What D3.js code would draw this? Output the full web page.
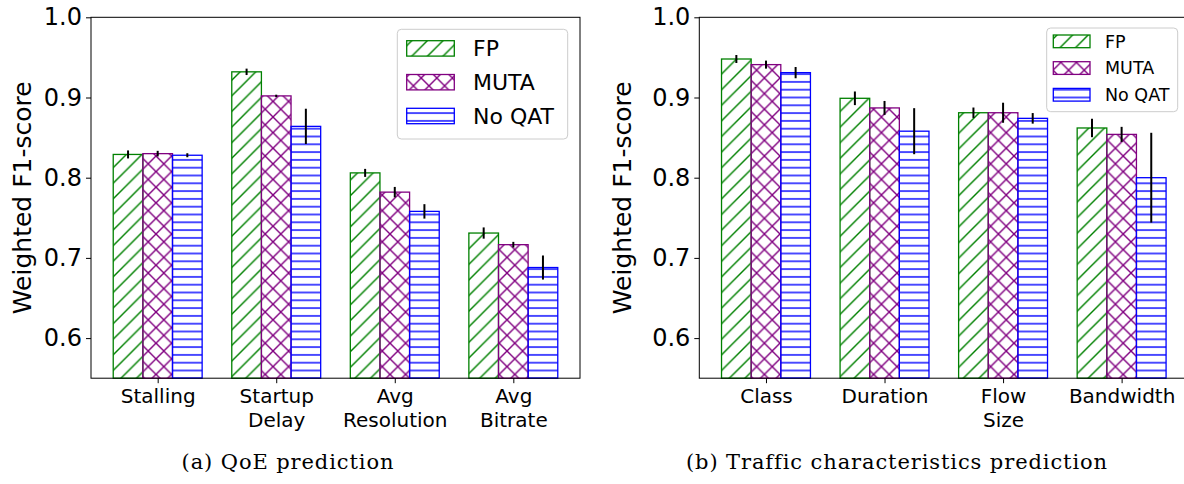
<!DOCTYPE html>
<html>
<head>
<meta charset="utf-8">
<script src="https://cdn.jsdelivr.net/npm/d3@7"></script>
<style>
  body { margin: 0; background: #fff; }
  svg { display: block; }
  text { font-family: "DejaVu Sans", sans-serif; fill: #000; }
</style>
</head>
<body>
<div id="chart"></div>
<script>
// series + tick labels
var seriesNames = ["FP", "MUTA", "No QAT"];
var yTicks = [0.6, 0.7, 0.8, 0.9, 1.0];

var qoeCategories = ["Stalling", "Startup\nDelay", "Avg\nResolution", "Avg\nBitrate"];
var qoeFP = [0.829, 0.932, 0.806, 0.731];
var qoeMUTA = [0.830, 0.902, 0.782, 0.7165];
var qoeNoQAT = [0.828, 0.864, 0.758, 0.688];
var qoeFPErr = [0.005, 0.004, 0.005, 0.007];
var qoeMUTAErr = [0.0035, 0.0015, 0.0065, 0.0035];
var qoeNoQATErr = [0.0025, 0.022, 0.009, 0.015];

var trafficCategories = ["Class", "Duration", "Flow\nSize", "Bandwidth"];
var trafficFP = [0.948, 0.899, 0.881, 0.862];
var trafficMUTA = [0.941, 0.887, 0.881, 0.854];
var trafficNoQAT = [0.931, 0.858, 0.874, 0.800];
var trafficFPErr = [0.005, 0.0085, 0.0065, 0.0115];
var trafficMUTAErr = [0.005, 0.0087, 0.0125, 0.0094];
var trafficNoQATErr = [0.007, 0.0287, 0.0066, 0.056];

var colors = ["#008000", "#800080", "#0000ff"];
var hatchIds = ["hatch-fp", "hatch-muta", "hatch-noqat"];

var svg = d3.select("#chart").append("svg")
  .attr("width", 1184)
  .attr("height", 484);

// hatch patterns, like matplotlib '//', 'xx', '--'
var defs = svg.append("defs");
var s = 15.6;
var hw = 1.4;
var p1 = defs.append("pattern").attr("id", hatchIds[0])
  .attr("patternUnits", "userSpaceOnUse").attr("width", s).attr("height", s);
p1.append("path")
  .attr("d", "M0," + s + "L" + s + ",0 M-2,2 L2,-2 M" + (s - 2) + "," + (s + 2) + "L" + (s + 2) + "," + (s - 2))
  .attr("stroke", colors[0]).attr("stroke-width", hw);

var p2 = defs.append("pattern").attr("id", hatchIds[1])
  .attr("patternUnits", "userSpaceOnUse").attr("width", s).attr("height", s);
p2.append("path")
  .attr("d", "M0," + s + "L" + s + ",0 M-2,2 L2,-2 M" + (s - 2) + "," + (s + 2) + "L" + (s + 2) + "," + (s - 2) +
    " M0,0 L" + s + "," + s + " M-2," + (s - 2) + "L2," + (s + 2) + " M" + (s - 2) + ",-2 L" + (s + 2) + ",2")
  .attr("stroke", colors[1]).attr("stroke-width", hw);

var h = 7.8;
var p3 = defs.append("pattern").attr("id", hatchIds[2])
  .attr("patternUnits", "userSpaceOnUse").attr("width", 10).attr("height", h);
p3.append("path")
  .attr("d", "M-1," + (h / 2) + "L11," + (h / 2))
  .attr("stroke", colors[2]).attr("stroke-width", hw);

function drawPanel(cfg) {
  var g = svg.append("g");

  var x = d3.scaleLinear().domain([-0.5625, 3.5625]).range([cfg.left, cfg.left + 489]);
  var y = d3.scaleLinear().domain([0.55, 1.0]).range([378.2, 17.3]);
  var bw = 0.25;

  var series = [cfg.fp, cfg.muta, cfg.noqat];
  var errs = [cfg.fpErr, cfg.mutaErr, cfg.noqatErr];

  series.forEach(function(vals, si) {
    var off = (si - 1) * bw;
    g.selectAll(null).data(vals).enter().append("rect")
      .attr("x", function(d, i) { return x(i + off - bw / 2); })
      .attr("y", function(d) { return y(d); })
      .attr("width", x(bw) - x(0))
      .attr("height", function(d) { return y(0.55) - y(d); })
      .attr("fill", "url(#" + hatchIds[si] + ")")
      .attr("stroke", colors[si])
      .attr("stroke-width", 1.3);
  });

  series.forEach(function(vals, si) {
    var off = (si - 1) * bw;
    g.selectAll(null).data(vals).enter().append("line")
      .attr("x1", function(d, i) { return x(i + off); })
      .attr("x2", function(d, i) { return x(i + off); })
      .attr("y1", function(d, i) { return y(d - errs[si][i]); })
      .attr("y2", function(d, i) { return y(d + errs[si][i]); })
      .attr("stroke", "#000")
      .attr("stroke-width", 2);
  });

  // frame
  g.append("rect")
    .attr("x", x.range()[0]).attr("y", y.range()[1])
    .attr("width", x.range()[1] - x.range()[0])
    .attr("height", y.range()[0] - y.range()[1])
    .attr("fill", "none").attr("stroke", "#000").attr("stroke-width", 1);

  var yAxis = g.append("g")
    .attr("transform", "translate(" + x.range()[0] + ",0)")
    .call(d3.axisLeft(y).tickValues(yTicks).tickFormat(d3.format(".1f")).tickSize(5).tickPadding(4));
  yAxis.select(".domain").remove();
  yAxis.selectAll("text").style("font-size", "24px").attr("font-family", null);

  var xAxis = g.append("g")
    .attr("transform", "translate(0," + y.range()[0] + ")")
    .call(d3.axisBottom(x).tickValues([0, 1, 2, 3]).tickSize(5).tickFormat(""));
  xAxis.select(".domain").remove();

  xAxis.selectAll(".tick").each(function(d) {
    var lines = cfg.categories[d].split("\n");
    var t = d3.select(this).append("text")
      .attr("text-anchor", "middle")
      .attr("y", 25)
      .style("font-size", "20px");
    lines.forEach(function(l, li) {
      t.append("tspan").attr("x", 0).attr("dy", li === 0 ? 0 : 24).text(l);
    });
  });

  g.append("text")
    .attr("transform", "translate(" + cfg.labelX + "," + ((y.range()[0] + y.range()[1]) / 2) + ") rotate(-90)")
    .attr("text-anchor", "middle")
    .style("font-size", "25px")
    .text("Weighted F1-score");

  // legend
  var lg = cfg.legend;
  g.append("rect")
    .attr("x", lg.x).attr("y", lg.y).attr("width", lg.w).attr("height", lg.h)
    .attr("rx", 4)
    .attr("fill", "#fff").attr("fill-opacity", 0.8)
    .attr("stroke", "#cccccc").attr("stroke-width", 1);
  seriesNames.forEach(function(name, si) {
    var py = lg.y + lg.first + si * lg.step;
    g.append("rect")
      .attr("x", lg.x + lg.pad).attr("y", py)
      .attr("width", lg.pw).attr("height", lg.ph)
      .attr("fill", "url(#" + hatchIds[si] + ")")
      .attr("stroke", colors[si]).attr("stroke-width", 1.3);
    g.append("text")
      .attr("x", lg.x + lg.tx)
      .attr("y", py + lg.ph / 2 + lg.fs * 0.365)
      .style("font-size", lg.fs + "px")
      .text(name);
  });

  svg.append("text")
    .attr("x", cfg.capX).attr("y", 469)
    .attr("text-anchor", "middle")
    .style("font-family", "'DejaVu Serif', serif")
    .style("font-size", "21px")
    .style("letter-spacing", "0.9px")
    .text(cfg.caption);
}

drawPanel({
  left: 91, labelX: 31, capX: 288,
  categories: qoeCategories,
  fp: qoeFP, muta: qoeMUTA, noqat: qoeNoQAT,
  fpErr: qoeFPErr, mutaErr: qoeMUTAErr, noqatErr: qoeNoQATErr,
  legend: { x: 397.3, y: 29.3, w: 170.4, h: 109.7, pad: 9.4, first: 11.4, step: 33.8, pw: 47.6, ph: 15.4, tx: 75.7, fs: 22 },
  caption: "(a) QoE prediction"
});

drawPanel({
  left: 699.3, labelX: 631, capX: 897,
  categories: trafficCategories,
  fp: trafficFP, muta: trafficMUTA, noqat: trafficNoQAT,
  fpErr: trafficFPErr, mutaErr: trafficMUTAErr, noqatErr: trafficNoQATErr,
  legend: { x: 1046.7, y: 28, w: 131, h: 83.7, pad: 6.6, first: 7, step: 26.7, pw: 36.7, ph: 12.7, tx: 58.3, fs: 17.5 },
  caption: "(b) Traffic characteristics prediction"
});
</script>
</body>
</html>
